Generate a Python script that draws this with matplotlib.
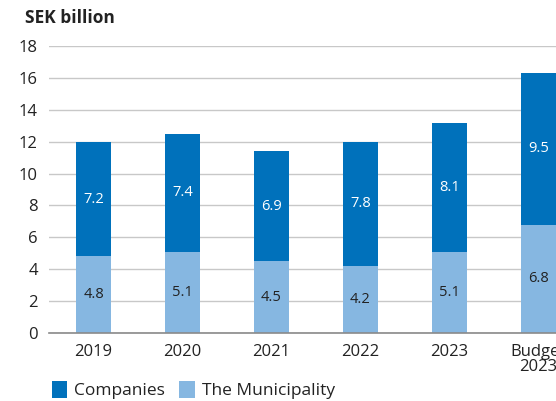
import matplotlib.pyplot as plt
import numpy as np

years = ["2019", "2020", "2021", "2022", "2023", "Budget\n2023"]
municipality = [4.8, 5.1, 4.5, 4.2, 5.1, 6.8]
companies = [7.2, 7.4, 6.9, 7.8, 8.1, 9.5]

dark = "#0071bb"
light = "#86b7e1"
txt = "#222222"

plt.rcParams["font.family"] = ["Open Sans", "DejaVu Sans"]

fig = plt.figure(figsize=(5.56, 4.01), dpi=100)
# axes runs past the right edge so the last bar gets cut off
ax = fig.add_axes([49 / 556, 68 / 401, 534 / 556, 287 / 401])

x = np.arange(len(years))
w = 0.39
b1 = ax.bar(x, municipality, w, color=light, label="The Municipality", zorder=3)
b2 = ax.bar(x, companies, w, bottom=municipality, color=dark, label="Companies", zorder=3)

for i in range(len(years)):
    ax.text(x[i], municipality[i] / 2, f"{municipality[i]:.1f}", ha="center", va="center",
            fontsize=10.5, color=txt, zorder=4)
    ax.text(x[i], municipality[i] + companies[i] / 2, f"{companies[i]:.1f}", ha="center",
            va="center", fontsize=10.5, color="white", zorder=4)

ax.set_xlim(-0.5, 5.5)
ax.set_ylim(0, 18)
ax.set_yticks(range(0, 19, 2))
ax.set_xticks(x)
ax.set_xticklabels(years, fontsize=12, color=txt, linespacing=0.9)
ax.tick_params(axis="y", labelsize=12, labelcolor=txt, length=0, pad=8)
ax.tick_params(axis="x", length=0, pad=8)
ax.yaxis.grid(True, color="#c8c8c8", linewidth=1, zorder=0)
for s in ["top", "right", "left"]:
    ax.spines[s].set_visible(False)
ax.spines["bottom"].set_color("#8a8a8a")
ax.spines["bottom"].set_linewidth(1.2)
ax.spines["bottom"].set_zorder(5)

fig.text(25 / 556, 1 - 18 / 401, "SEK billion", fontsize=12.5, fontweight="bold", color=txt,
         va="center")

fig.legend(handles=[b2, b1], loc="center left", bbox_to_anchor=(36 / 556, 1 - 390 / 401),
           ncol=2, frameon=False, fontsize=12.5, handlelength=0.9, handleheight=1.1,
           handletextpad=0.4, columnspacing=0.8, labelcolor=txt)

fig.savefig("out.png", dpi=100)
